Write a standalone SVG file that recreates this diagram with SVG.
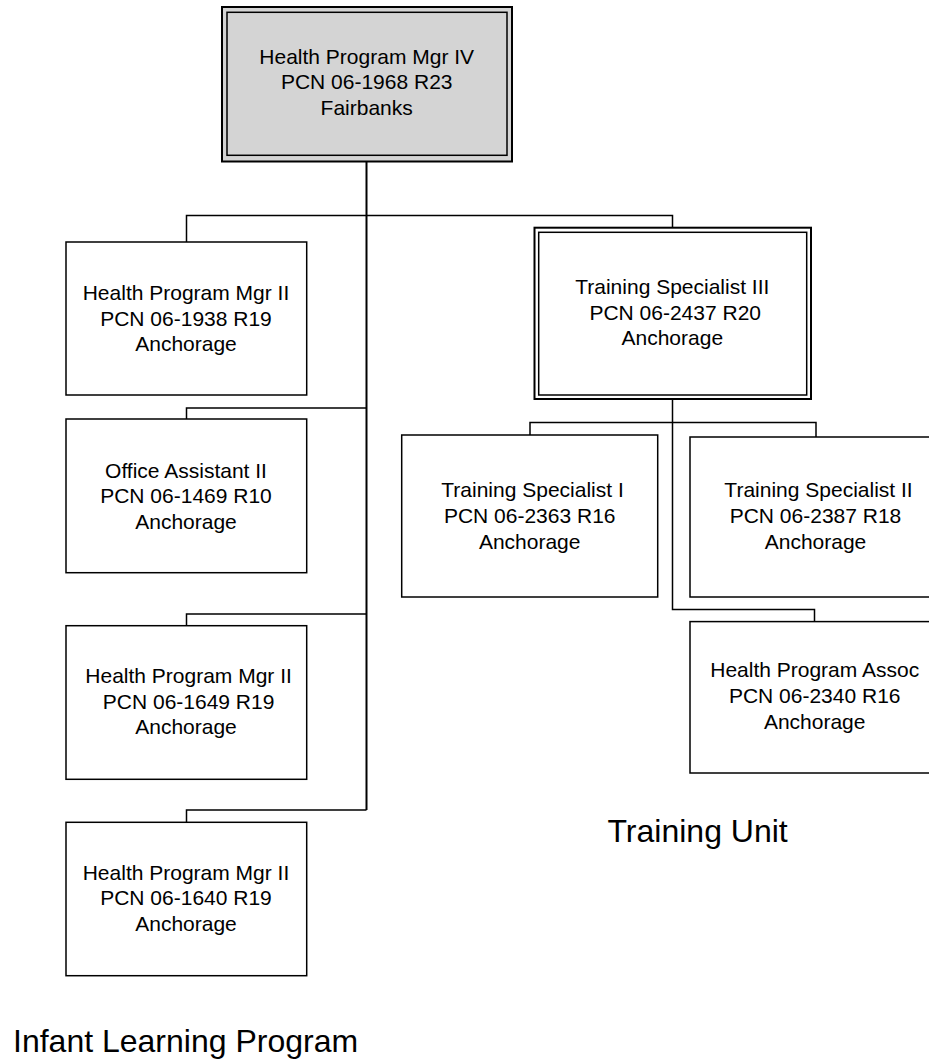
<svg xmlns="http://www.w3.org/2000/svg" width="929" height="1060" viewBox="0 0 929 1060">
<style>
.box{fill:#fff;stroke:#000;stroke-width:1.5}
.gbox{fill:#d4d4d4;stroke:#000;stroke-width:2}
.inner{fill:none;stroke:#000;stroke-width:1.5}
.t{font-family:"Liberation Sans",Arial,sans-serif;font-size:21px;fill:#000;text-anchor:middle;white-space:pre}
.big{font-family:"Liberation Sans",Arial,sans-serif;font-size:32px;fill:#000}
.c{fill:none;stroke:#000;stroke-width:1.5}
</style>
<rect width="929" height="1060" fill="#fff"/>
<g id="connectors">
<path class="c" d="M366.5 161 V810" style="stroke-width:2"/>
<path class="c" d="M186.5 242 V215.5 H672.5 V228"/>
<path class="c" d="M366.5 408 H186.5 V419"/>
<path class="c" d="M366.5 614 H186.5 V626"/>
<path class="c" d="M366.5 810 H186.5 V822"/>
<path class="c" d="M672.5 399 V609.5 H814.5 V622"/>
<path class="c" d="M530 435 V422.5 H816 V437"/>
</g>
<g id="n_hpm4">
<rect class="gbox" x="222" y="7" width="290" height="154.5"/>
<rect class="inner" x="227" y="12.3" width="280" height="143"/>
<text class="t" x="366.7" y="63.5">Health Program Mgr IV</text>
<text class="t" x="366.7" y="89">PCN 06-1968 R23</text>
<text class="t" x="366.7" y="114.5">Fairbanks</text>
</g>
<g id="n_hpm2a">
<rect class="box" x="66" y="242" width="240.7" height="153"/>
<text class="t" x="186" y="300">Health Program Mgr II</text>
<text class="t" x="186" y="325.7">PCN 06-1938 R19</text>
<text class="t" x="186" y="351">Anchorage</text>
</g>
<g id="n_oa2">
<rect class="box" x="66" y="419" width="240.7" height="153.7"/>
<text class="t" x="186" y="477.5">Office Assistant II</text>
<text class="t" x="186" y="503">PCN 06-1469 R10</text>
<text class="t" x="186" y="528.5">Anchorage</text>
</g>
<g id="n_hpm2b">
<rect class="box" x="66" y="625.7" width="240.7" height="153.6"/>
<text class="t" x="188.6" y="683">Health Program Mgr II</text>
<text class="t" x="188.6" y="708.5">PCN 06-1649 R19</text>
<text class="t" x="186" y="734">Anchorage</text>
</g>
<g id="n_hpm2c">
<rect class="box" x="66" y="822.3" width="240.7" height="153.4"/>
<text class="t" x="186" y="879.5">Health Program Mgr II</text>
<text class="t" x="186" y="905">PCN 06-1640 R19</text>
<text class="t" x="186" y="930.5">Anchorage</text>
</g>
<g id="n_ts3">
<rect class="box" x="534.5" y="227.7" width="276.5" height="171.3" style="stroke-width:2"/>
<rect class="inner" x="538.7" y="232.3" width="268" height="162.7"/>
<text class="t" x="672.3" y="294">Training Specialist III</text>
<text class="t" x="672.3" y="320"> PCN 06-2437 R20</text>
<text class="t" x="672.3" y="345">Anchorage</text>
</g>
<g id="n_ts1">
<rect class="box" x="401.7" y="435" width="256" height="162"/>
<text class="t" x="532.5" y="496.5">Training Specialist I</text>
<text class="t" x="529.7" y="522.5">PCN 06-2363 R16</text>
<text class="t" x="529.7" y="548.5">Anchorage</text>
</g>
<g id="n_ts2">
<rect class="box" x="690" y="437" width="251" height="160"/>
<text class="t" x="818.5" y="496.5">Training Specialist II</text>
<text class="t" x="815.5" y="522.5">PCN 06-2387 R18</text>
<text class="t" x="815.5" y="548.5">Anchorage</text>
</g>
<g id="n_hpa">
<rect class="box" x="690" y="621.6" width="251" height="151.4"/>
<text class="t" x="814.7" y="677">Health Program Assoc</text>
<text class="t" x="814.7" y="703">PCN 06-2340 R16</text>
<text class="t" x="814.7" y="729">Anchorage</text>
</g>
<text class="big" x="607.5" y="842.3">Training Unit</text>
<text class="big" x="13" y="1052.3">Infant Learning Program</text>
</svg>
